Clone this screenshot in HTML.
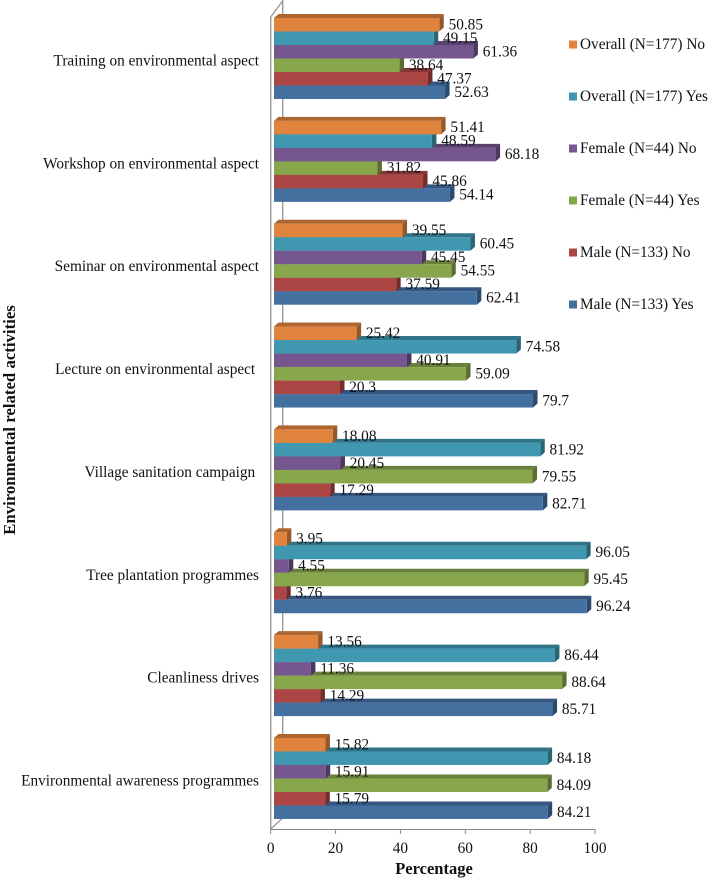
<!DOCTYPE html>
<html>
<head>
<meta charset="utf-8">
<style>
html,body{margin:0;padding:0;background:#fff;width:709px;height:880px;overflow:hidden}
svg{display:block}
text{font-family:"Liberation Serif",serif;fill:#111}
</style>
</head>
<body>
<svg id="chart" xmlns="http://www.w3.org/2000/svg" width="709" height="880" viewBox="0 0 709 880">
<text transform="translate(15,420) rotate(-90)" text-anchor="middle" font-size="16.8" font-weight="bold">Environmental related activities</text>
<text x="434" y="874" text-anchor="middle" font-size="16.5" font-weight="bold">Percentage</text>
</svg>
<script>
var categories = ["Training on environmental aspect","Workshop on environmental aspect","Seminar on environmental aspect","Lecture on environmental aspect ","Village sanitation campaign ","Tree plantation programmes","Cleanliness drives","Environmental awareness programmes"];
var seriesNames = ["Overall (N=177) No","Overall (N=177) Yes","Female (N=44) No","Female (N=44) Yes","Male (N=133) No","Male (N=133) Yes"];
var overallNo = [50.85,51.41,39.55,25.42,18.08,3.95,13.56,15.82];
var overallYes = [49.15,48.59,60.45,74.58,81.92,96.05,86.44,84.18];
var femaleNo = [61.36,68.18,45.45,40.91,20.45,4.55,11.36,15.91];
var femaleYes = [38.64,31.82,54.55,59.09,79.55,95.45,88.64,84.09];
var maleNo = [47.37,45.86,37.59,20.3,17.29,3.76,14.29,15.79];
var maleYes = [52.63,54.14,62.41,79.7,82.71,96.24,85.71,84.21];
var xTicks = [0,20,40,60,80,100];

var seriesValues = [overallNo,overallYes,femaleNo,femaleYes,maleNo,maleYes];
var faceColors = ["#E0833C","#3F97B0","#76568E","#88A64C","#AB4644","#44709F"];
var capColors = ["#AD6630","#2F7488","#5A4270","#69803A","#853634","#345680"];
var sideColors = ["#96582A","#286575","#4C385F","#5A6E32","#722E2C","#2C4A6E"];
var NS = "http://www.w3.org/2000/svg";
var svg = document.getElementById("chart");
var DX = 4.5, DY = 4, BAR_H = 13.5, GROUP_STEP = 102.85, GROUP_TOP = 18;

function xFace(v){ return 274 + v * 3.25; }
function xAxis(v){ return 270.7 + v * 3.243; }
function yBar(c, s){ return GROUP_TOP + c * GROUP_STEP + s * BAR_H; }
function mk(tag, attrs, parent){
  var el = document.createElementNS(NS, tag);
  for (var k in attrs) el.setAttribute(k, attrs[k]);
  (parent || svg).appendChild(el);
  return el;
}

var wall = mk("g", {stroke:"#9a9a9a","stroke-width":"1.4",fill:"none"});


mk("path", {d:"M270.7 829V17L282.7 1"}, wall);
mk("path", {d:"M282.7 0V818L270.7 829"}, wall);

var axis = mk("g", {stroke:"#8a8a8a","stroke-width":"1",fill:"none"});


mk("line", {x1:xAxis(0),x2:xAxis(100),y1:829.5,y2:829.5}, axis);
xTicks.forEach(function(t){
  mk("line", {x1:xAxis(t),x2:xAxis(t),y1:829,y2:834}, axis);
  var tl = mk("text", {x:xAxis(t),y:853,"text-anchor":"middle","font-size":"15.3"});
  
  
  tl.textContent = t;
});

categories.forEach(function(name, c){
  var cl = mk("text", {x:259,y:yBar(c,0)+47.5,"text-anchor":"end","font-size":"15.3"});
  
  
  cl.style.whiteSpace = "pre";
  cl.textContent = name;
  var g = mk("g", {});
  
  
  for (var s = seriesValues.length - 1; s >= 0; s--) {
    var v = seriesValues[s][c], x0 = xFace(0), x1 = xFace(v), y = yBar(c, s);
    var b = mk("g", {}, g);
    
    
    mk("polygon", {points:x0+","+y+" "+(x0+DX)+","+(y-DY)+" "+(x1+DX)+","+(y-DY)+" "+x1+","+y, fill:capColors[s]}, b);
    mk("polygon", {points:x1+","+y+" "+(x1+DX)+","+(y-DY)+" "+(x1+DX)+","+(y+BAR_H-DY)+" "+x1+","+(y+BAR_H), fill:sideColors[s]}, b);
    mk("rect", {x:x0,y:y,width:x1-x0,height:BAR_H,fill:faceColors[s]}, b);
  }
});

categories.forEach(function(name, c){
  seriesValues.forEach(function(vals, s){
    var lbl = mk("text", {x:xFace(vals[c])+9.3,y:yBar(c,s)+BAR_H/2+4.6,"font-size":"15.3"});
    
    
    lbl.textContent = vals[c];
  });
});

seriesNames.forEach(function(name, s){
  var y = 44.5 + s * 52;
  var g = mk("g", {});
  
  
  mk("rect", {x:569,y:y-4,width:8,height:8,fill:faceColors[s]}, g);
  var t = mk("text", {x:580,y:y+4.7,"font-size":"15.3"}, g);
  t.textContent = name;
});
</script>
</body>
</html>
